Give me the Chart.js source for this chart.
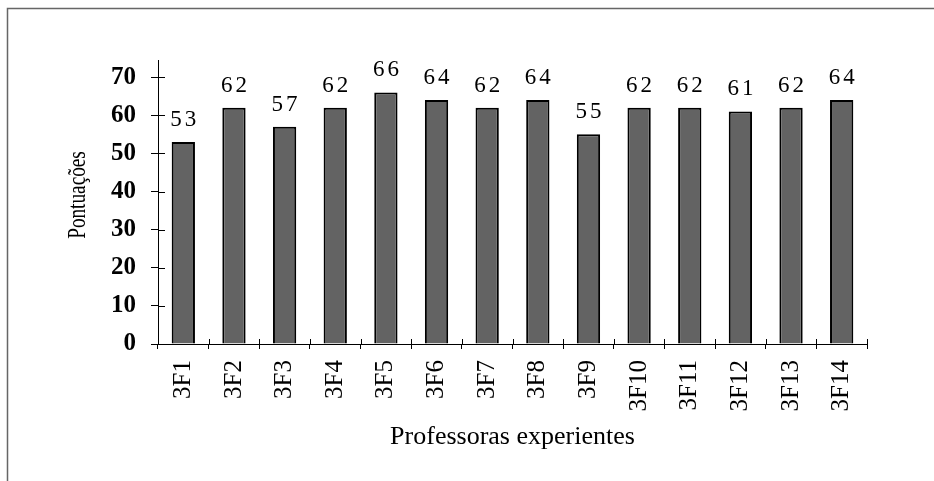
<!DOCTYPE html>
<html>
<head>
<meta charset="utf-8">
<script src="https://cdn.jsdelivr.net/npm/chart.js@4/dist/chart.umd.min.js"></script>
<style>
  html, body { margin: 0; padding: 0; background: #fff; }
  #wrap { width: 934px; height: 481px; }
</style>
</head>
<body>
<div id="wrap"><canvas id="c" width="934" height="481"></canvas></div>
<script>
// Scores of the experienced teachers
const categories = ['3F1', '3F2', '3F3', '3F4', '3F5', '3F6', '3F7', '3F8', '3F9', '3F10', '3F11', '3F12', '3F13', '3F14'];
const scores = [53, 62, 57, 62, 66, 64, 62, 64, 55, 62, 62, 61, 62, 64];
const yTicks = [0, 10, 20, 30, 40, 50, 60, 70];
const yTitle = 'Pontuações';
const xTitle = 'Professoras experientes';

const SERIF = '"Liberation Serif", "Times New Roman", serif';

// Outer frame of the chart
const framePlugin = {
  id: 'frame',
  beforeDraw(chart) {
    const ctx = chart.ctx;
    ctx.save();
    ctx.fillStyle = '#fff';
    ctx.fillRect(0, 0, chart.width, chart.height);
    ctx.strokeStyle = '#666';
    ctx.lineWidth = 1.5;
    ctx.beginPath();
    ctx.moveTo(7.5, chart.height);
    ctx.lineTo(7.5, 8.5);
    ctx.lineTo(chart.width, 8.5);
    ctx.stroke();
    ctx.restore();
  }
};

// Tick marks that cross the axis lines, the rotated y title and value labels
const decorPlugin = {
  id: 'decor',
  afterDraw(chart) {
    const ctx = chart.ctx;
    const xs = chart.scales.x, ys = chart.scales.y;
    const area = chart.chartArea;
    ctx.save();
    ctx.strokeStyle = '#000';
    ctx.lineWidth = 1;
    // inner halves of the y ticks
    ys.ticks.forEach(t => {
      const py = Math.round(ys.getPixelForValue(t.value)) + 0.5;
      ctx.beginPath();
      ctx.moveTo(area.left, py);
      ctx.lineTo(area.left + 7, py);
      ctx.stroke();
    });
    // inner halves of the x ticks at category boundaries
    const n = categories.length;
    for (let i = 0; i <= n; i++) {
      let px;
      if (i === 0) px = xs.getPixelForValue(0) - (xs.getPixelForValue(1) - xs.getPixelForValue(0)) / 2;
      else if (i === n) px = xs.getPixelForValue(n - 1) + (xs.getPixelForValue(n - 1) - xs.getPixelForValue(n - 2)) / 2;
      else px = (xs.getPixelForValue(i - 1) + xs.getPixelForValue(i)) / 2;
      px = Math.round(px) + 0.5;
      ctx.beginPath();
      ctx.moveTo(px, area.bottom);
      ctx.lineTo(px, area.bottom - 5);
      ctx.stroke();
    }
    // y axis title, condensed serif text
    ctx.fillStyle = '#000';
    ctx.font = '26px ' + SERIF;
    ctx.textAlign = 'center';
    ctx.textBaseline = 'middle';
    ctx.translate(78, 195);
    ctx.rotate(-Math.PI / 2);
    ctx.scale(0.74, 1);
    ctx.fillText(yTitle, 0, 0);
    ctx.restore();

    // value labels above the bars, with spaced digits
    const meta = chart.getDatasetMeta(0);
    ctx.save();
    ctx.fillStyle = '#000';
    ctx.font = '23px ' + SERIF;
    ctx.textBaseline = 'alphabetic';
    ctx.textAlign = 'left';
    const gap = 3;
    meta.data.forEach((bar, i) => {
      const text = String(chart.data.datasets[0].data[i]);
      const chars = text.split('');
      const widths = chars.map(ch => ctx.measureText(ch).width);
      const total = widths.reduce((a, b) => a + b, 0) + gap * (chars.length - 1);
      let x = bar.x - total / 2;
      const y = bar.y - 16;
      chars.forEach((ch, k) => {
        ctx.fillText(ch, x, y);
        x += widths[k] + gap;
      });
    });
    ctx.restore();
  }
};

new Chart(document.getElementById('c'), {
  type: 'bar',
  data: {
    labels: categories,
    datasets: [{
      data: scores,
      backgroundColor: '#636363',
      borderColor: '#000',
      borderWidth: 2,
      borderSkipped: 'start',
      categoryPercentage: 1,
      barPercentage: 0.46
    }]
  },
  options: {
    responsive: false,
    animation: false,
    devicePixelRatio: 1,
    layout: { padding: { top: 60, right: 67, left: 0, bottom: 0 } },
    plugins: { legend: { display: false }, tooltip: { enabled: false } },
    scales: {
      x: {
        offset: true,
        grid: { display: true, drawOnChartArea: false, drawTicks: true, tickLength: 5, color: '#000', lineWidth: 1, offset: true },
        border: { display: true, color: '#000', width: 1 },
        ticks: {
          autoSkip: false, maxRotation: 90, minRotation: 90, padding: 11,
          color: '#000', font: { family: SERIF, size: 25 }
        },
        title: {
          display: true, text: xTitle, color: '#000',
          font: { family: SERIF, size: 26 }, padding: { top: 0, bottom: 28 }
        },
        afterFit(scale) { scale.height = 137; }
      },
      y: {
        min: 0,
        max: 74.5,
        grid: { display: true, drawOnChartArea: false, drawTicks: true, tickLength: 7, color: '#000', lineWidth: 1 },
        border: { display: true, color: '#000', width: 1 },
        ticks: {
          stepSize: 10, padding: 15, color: '#000',
          font: { family: SERIF, size: 25, weight: 'bold' }
        },
        afterBuildTicks(scale) {
          scale.ticks = yTicks.map(v => ({ value: v }));
        },
        afterFit(scale) { scale.width = 158; }
      }
    }
  },
  plugins: [framePlugin, decorPlugin]
});
</script>
</body>
</html>
